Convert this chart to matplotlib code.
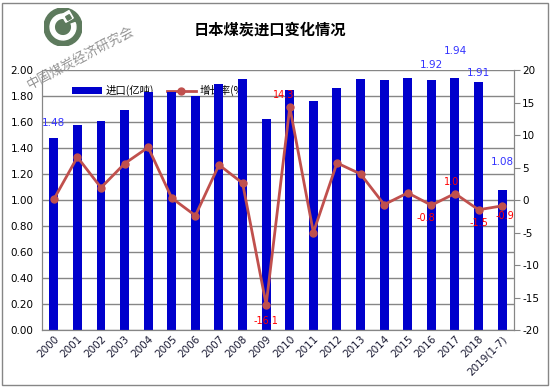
import matplotlib
matplotlib.use('Agg')
import matplotlib.pyplot as plt
import numpy as np
from matplotlib.patches import Circle, Wedge, Rectangle

plt.rcParams['font.family'] = ['Noto Sans CJK SC', 'DejaVu Sans']

years = ['2000', '2001', '2002', '2003', '2004', '2005', '2006', '2007', '2008', '2009',
         '2010', '2011', '2012', '2013', '2014', '2015', '2016', '2017', '2018', '2019(1-7)']
imports = [1.48, 1.58, 1.61, 1.69, 1.83, 1.83, 1.80, 1.89, 1.93, 1.62,
           1.85, 1.76, 1.86, 1.93, 1.92, 1.94, 1.92, 1.94, 1.91, 1.08]
growth = [0.1, 6.6, 1.9, 5.6, 8.1, 0.3, -2.4, 5.4, 2.6, -16.1,
          14.3, -5.0, 5.7, 4.0, -0.7, 1.1, -0.8, 1.0, -1.5, -0.9]

# which points get a value label
bar_labels = {0: 1.48, 16: 1.92, 17: 1.94, 18: 1.91, 19: 1.08}
line_labels = [9, 10, 16, 17, 18, 19]

fig = plt.figure(figsize=(5.51, 3.90), dpi=100)
fig.patch.set_facecolor('white')
fig.add_artist(Rectangle((0.004, 0.013), 0.99, 0.98, transform=fig.transFigure,
                         fill=False, edgecolor='#868686', linewidth=1))

ax = fig.add_axes([0.0762, 0.1538, 0.8566, 0.6667])
x = np.arange(len(years))
ax.bar(x, imports, width=0.38, color='#0000CC', zorder=2, label='进口(亿吨)')
ax.set_ylim(0, 2.0)
ax.set_xlim(-0.5, len(years) - 0.5)
ax.set_yticks(np.arange(0, 2.01, 0.2))
ax.set_yticklabels(['%.2f' % v for v in np.arange(0, 2.01, 0.2)], fontsize=7.5,
                   family='DejaVu Sans')
ax.yaxis.grid(True, color='#868686', linewidth=1)
ax.set_axisbelow(True)
ax.tick_params(axis='y', length=0, pad=6)
ax.tick_params(axis='x', length=0, pad=3)
ax.set_xticks(x)
ax.set_xticklabels(years, rotation=45, ha='right', rotation_mode='anchor',
                   fontsize=7.5, family='DejaVu Sans', color='#1a1a33')
for s in ax.spines.values():
    s.set_color('#868686')
ax.spines['top'].set_visible(False)

for i, v in bar_labels.items():
    off = {0: 0.11, 16: 0.12, 17: 0.21, 18: 0.07, 19: 0.21}[i]
    ax.text(x[i], imports[i] + off, '%.2f' % v, ha='center', va='center',
            fontsize=7.5, color='#3333FF', family='DejaVu Sans', clip_on=False)

ax2 = ax.twinx()
ax2.plot(x, growth, color='#C0504D', linewidth=2, marker='o', markersize=5,
         label='增长率(%)')
ax2.set_ylim(-20, 20)
ax2.set_yticks(np.arange(-20, 21, 5))
ax2.set_yticklabels([str(v) for v in range(-20, 21, 5)], fontsize=7.5, family='DejaVu Sans')
ax2.tick_params(axis='y', length=4, color='#868686', pad=2)
for s in ax2.spines.values():
    s.set_color('#868686')
ax2.spines['top'].set_visible(False)

line_offsets = {9: (0, -2.5), 10: (-0.25, 1.8), 16: (-0.25, -2.0), 17: (-0.15, 1.8),
                18: (0, -2.0), 19: (0.1, -1.5)}
for i in line_labels:
    dx, dy = line_offsets[i]
    ax2.text(x[i] + dx, growth[i] + dy, '%.1f' % growth[i], ha='center', va='center',
             fontsize=7, color='#FF0000', family='DejaVu Sans')

h1, l1 = ax.get_legend_handles_labels()
h2, l2 = ax2.get_legend_handles_labels()
leg = ax.legend(h1 + h2, l1 + l2, loc='center', bbox_to_anchor=(0.25, 0.92), ncol=2,
                frameon=False, fontsize=7.5, handlelength=2.8, columnspacing=1.2,
                handletextpad=0.4)
leg.set_zorder(1)

fig.text(0.49, 0.925, '日本煤炭进口变化情况', ha='center', va='center', fontsize=11,
         fontweight='bold')

# watermark logo
lax = fig.add_axes([(63 - 19) / 551, (390 - 46) / 390, 38 / 551, 38 / 390])
lax.set_xlim(-1, 1)
lax.set_ylim(-1, 1)
lax.set_aspect('equal')
lax.axis('off')
lax.add_patch(Circle((0, 0), 1, color='#5d7a5d'))
lax.add_patch(Wedge((0, 0), 0.68, 70, 380, width=0.22, color='white'))
lax.add_patch(Rectangle((0.15, 0.25), 0.45, 0.45, angle=30, color='white'))
lax.add_patch(Rectangle((0.25, 0.35), 0.22, 0.22, angle=30, color='#5d7a5d'))
fig.text(0.147, 0.851, '中国煤炭经济研究会', ha='center', va='center', fontsize=9.5,
         rotation=28, color='#959595')

fig.savefig('out.png', dpi=100)
